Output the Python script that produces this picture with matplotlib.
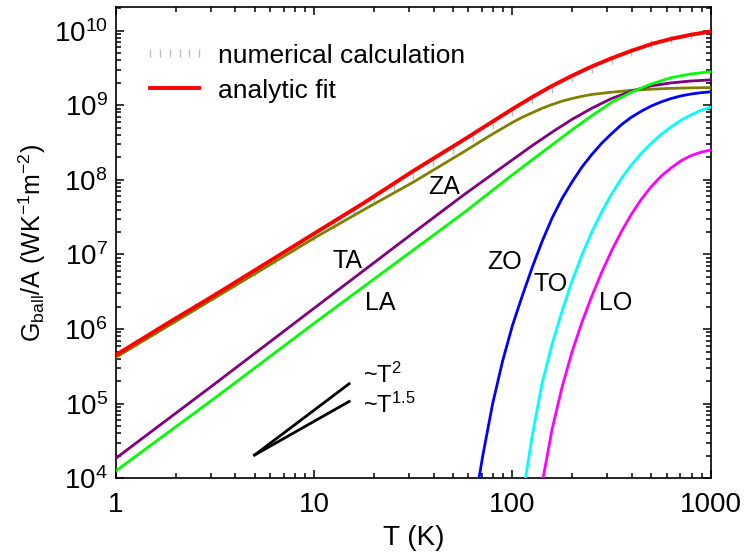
import numpy as np
import matplotlib
matplotlib.use("Agg")
import matplotlib.pyplot as plt
from matplotlib.ticker import NullFormatter, FixedLocator, FixedFormatter, LogLocator

plt.rcParams['font.family'] = ['Liberation Sans', 'DejaVu Sans']
plt.rcParams['mathtext.fontset'] = 'custom'
plt.rcParams['mathtext.rm'] = 'Liberation Sans'
plt.rcParams['mathtext.it'] = 'Liberation Sans:italic'
plt.rcParams['mathtext.bf'] = 'Liberation Sans:bold'

# ---------------- data ----------------
# numerical calculation (gray tick markers)
num_T = [1, 1.259, 1.585, 1.995, 2.512, 3.162, 3.981, 5.012, 6.310, 7.943,
         10, 12.59, 15.85, 19.95, 25.12, 31.62, 39.81, 50.12, 63.10, 79.43,
         100, 125.9, 158.5, 199.5, 251.2, 316.2, 398.1, 501.2, 631.0, 794.3, 1000]
num_G = [4.42e5, 6.46e5, 9.33e5, 1.35e6, 1.95e6, 2.82e6, 4.07e6, 5.89e6, 8.40e6, 1.21e7,
         1.74e7, 2.51e7, 3.63e7, 5.37e7, 7.94e7, 1.17e8, 1.74e8, 2.51e8, 3.72e8, 5.50e8,
         8.13e8, 1.17e9, 1.66e9, 2.29e9, 3.09e9, 4.02e9, 5.20e9, 6.53e9, 7.76e9, 8.81e9, 9.77e9]

# analytic fit (total)
fit_T = [1, 1.778, 3.162, 5.623, 10, 17.78, 31.62, 56.23, 100, 125.9, 158.5,
         199.5, 251.2, 316.2, 398.1, 501.2, 631.0, 794.3, 1000]
fit_G = [4.50e5, 1.15e6, 2.88e6, 7.41e6, 1.91e7, 4.90e7, 1.32e8, 3.39e8, 8.91e8,
         1.288e9, 1.820e9, 2.483e9, 3.311e9, 4.266e9, 5.370e9, 6.607e9, 7.762e9,
         8.810e9, 9.772e9]

# ZA branch
za_T = [1, 3.162, 10, 17.78, 31.62, 56.23, 79.43, 100, 112.2, 125.9, 141.3, 158.5,
        177.8, 199.5, 223.9, 251.2, 316.2, 398.1, 501.2, 631.0, 794.3, 1000]
za_G = [4.19e5, 2.63e6, 1.66e7, 3.98e7, 9.33e7, 2.34e8, 4.12e8, 5.89e8, 6.92e8,
        7.94e8, 9.12e8, 1.023e9, 1.135e9, 1.230e9, 1.318e9, 1.396e9, 1.496e9,
        1.585e9, 1.641e9, 1.687e9, 1.710e9, 1.726e9]

# TA branch
ta_T = [1, 3.162, 10, 31.62, 56.23, 100, 125.9, 158.5, 199.5, 251.2, 316.2,
        398.1, 501.2, 631.0, 794.3, 1000]
ta_G = [1.86e4, 1.86e5, 1.91e6, 1.95e7, 6.17e7, 1.86e8, 2.884e8, 4.365e8, 6.457e8,
        9.12e8, 1.23e9, 1.549e9, 1.82e9, 1.995e9, 2.113e9, 2.188e9]

# LA branch
la_T = [1, 3.162, 10, 31.62, 56.23, 100, 125.9, 158.5, 199.5, 251.2, 316.2,
        398.1, 501.2, 631.0, 794.3, 1000]
la_G = [1.26e4, 1.20e5, 1.20e6, 1.15e7, 3.55e7, 1.17e8, 1.862e8, 2.951e8, 4.677e8,
        7.244e8, 1.096e9, 1.496e9, 1.928e9, 2.344e9, 2.630e9, 2.818e9]

# ZO branch
zo_T = [67.8, 70.79, 79.43, 89.13, 100, 112.2, 125.9, 141.3, 158.5, 177.8, 199.5,
        223.9, 251.2, 281.8, 316.2, 354.8, 398.1, 446.7, 501.2, 562.3, 631.0,
        707.9, 794.3, 891.3, 1000]
zo_G = [1.0e4, 2.0e4, 1.0e5, 3.715e5, 1.122e6, 2.818e6, 6.761e6, 1.514e7, 3.090e7,
        5.623e7, 9.333e7, 1.479e8, 2.188e8, 3.09e8, 4.169e8, 5.50e8, 6.918e8,
        8.32e8, 9.772e8, 1.109e9, 1.230e9, 1.334e9, 1.413e9, 1.472e9, 1.514e9]

# TO branch
to_T = [116.4, 125.9, 141.3, 158.5, 177.8, 199.5, 223.9, 251.2, 281.8, 316.2,
        354.8, 398.1, 446.7, 501.2, 562.3, 631.0, 707.9, 794.3, 891.3, 1000]
to_G = [1.0e4, 3.80e4, 1.905e5, 6.310e5, 1.738e6, 4.365e6, 9.772e6, 1.995e7,
        3.715e7, 6.457e7, 1.047e8, 1.585e8, 2.265e8, 3.090e8, 4.074e8, 5.129e8,
        6.310e8, 7.413e8, 8.511e8, 9.441e8]

# LO branch
lo_T = [142.6, 158.5, 177.8, 199.5, 223.9, 251.2, 281.8, 316.2, 354.8, 398.1,
        446.7, 501.2, 562.3, 631.0, 707.9, 794.3, 891.3, 1000]
lo_G = [1.0e4, 4.571e4, 1.660e5, 4.898e5, 1.230e6, 2.754e6, 5.754e6, 1.122e7,
        2.042e7, 3.467e7, 5.495e7, 8.128e7, 1.122e8, 1.445e8, 1.799e8, 2.113e8,
        2.344e8, 2.512e8]

# power-law guides
guide_T = [5, 15]
guide_T2 = [2.05e4, 1.85e5]
guide_T15 = [2.05e4, 1.07e5]

x_ticks = [1, 10, 100, 1000]
x_tick_labels = ['1', '10', '100', '1000']
y_ticks = [1e4, 1e5, 1e6, 1e7, 1e8, 1e9, 1e10]
y_tick_labels = [r'10$^{4}$', r'10$^{5}$', r'10$^{6}$', r'10$^{7}$',
                 r'10$^{8}$', r'10$^{9}$', r'10$^{10}$']

branch_labels = ['TA', 'LA', 'ZA', 'ZO', 'TO', 'LO']
branch_label_T = [14.7, 21.5, 45.2, 91.8, 155.7, 331]
branch_label_G = [8.26e6, 2.26e6, 8.1e7, 8.0e6, 4.03e6, 2.26e6]

# ---------------- figure ----------------
fig = plt.figure(figsize=(7.46, 5.57), dpi=100)
ax = fig.add_axes([0.1555, 0.1413, 0.7972, 0.8456])

ax.plot(num_T, num_G, ls='none', marker='|', ms=6, mew=1.0, color='#bdbdbd',
        label='numerical calculation', zorder=2)
ax.plot(za_T, za_G, color='#808000', lw=2.0, zorder=3)
ax.plot(ta_T, ta_G, color='#800080', lw=2.0, zorder=3)
ax.plot(la_T, la_G, color='#00ff00', lw=2.0, zorder=3)
ax.plot(zo_T, zo_G, color='#0000ff', lw=2.0, zorder=3)
ax.plot(to_T, to_G, color='#00ffff', lw=2.0, zorder=3)
ax.plot(lo_T, lo_G, color='#ff00ff', lw=2.0, zorder=3)
ax.plot(fit_T, fit_G, color='#ff0000', lw=2.8, label='analytic fit', zorder=4)

ax.plot(guide_T, guide_T2, color='black', lw=2.0)
ax.plot(guide_T, guide_T15, color='black', lw=2.0)
ax.text(17.7, 1.88e5, r'~T$^{2}$', fontsize=17, ha='left', va='baseline')
ax.text(17.7, 7.43e4, r'~T$^{1.5}$', fontsize=17, ha='left', va='baseline')

for lab, tx, gy in zip(branch_labels, branch_label_T, branch_label_G):
    ax.text(tx, gy, lab, fontsize=18, ha='center', va='center')

ax.set_xscale('log')
ax.set_yscale('log')
ax.set_xlim(1, 1000)
ax.set_ylim(1e4, 10 ** 10.313)

ax.xaxis.set_major_locator(FixedLocator(x_ticks))
ax.xaxis.set_major_formatter(FixedFormatter(x_tick_labels))
ax.xaxis.set_minor_locator(LogLocator(base=10, subs=np.arange(2, 10), numticks=20))
ax.xaxis.set_minor_formatter(NullFormatter())
ax.yaxis.set_major_locator(FixedLocator(y_ticks))
ax.yaxis.set_major_formatter(FixedFormatter(y_tick_labels))
ax.yaxis.set_minor_locator(LogLocator(base=10, subs=np.arange(2, 10), numticks=20))
ax.yaxis.set_minor_formatter(NullFormatter())

ax.tick_params(which='both', direction='in', top=True, right=True, width=1.1)
ax.tick_params(which='major', length=6, labelsize=20)
ax.tick_params(axis='x', which='major', pad=10)
ax.tick_params(axis='y', which='major', pad=6)
ax.tick_params(which='minor', length=3.5)
for s in ax.spines.values():
    s.set_linewidth(1.2)

ax.set_xlabel('T (K)', fontsize=20, labelpad=5)
ax.set_ylabel(r'G$_{\mathregular{ball}}$/A (WK$^{\mathregular{-1}}$m$^{\mathregular{-2}}$)',
              fontsize=18, labelpad=4)

leg = ax.legend(loc='upper left', bbox_to_anchor=(0.044, 0.923), frameon=False,
                fontsize=19, numpoints=6, handlelength=2.46, handletextpad=0.42,
                borderpad=0, borderaxespad=0, labelspacing=0.42)

fig.savefig('out.png', dpi=100)
